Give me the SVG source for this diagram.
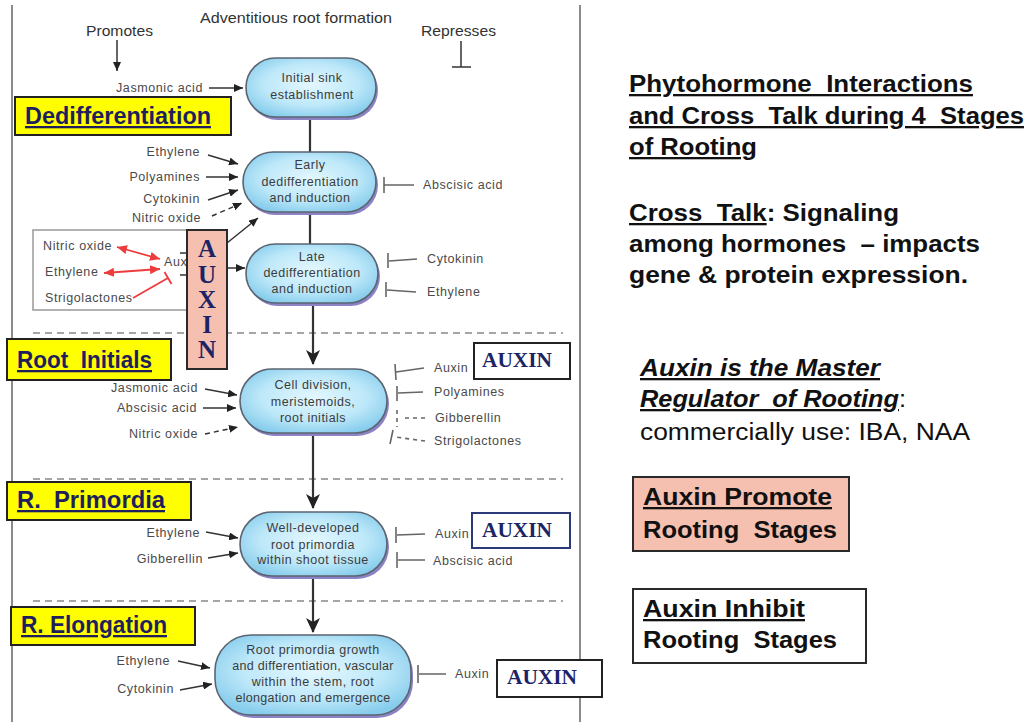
<svg xmlns="http://www.w3.org/2000/svg" width="1028" height="722" viewBox="0 0 1028 722">
<style>
.lbl{font-family:"Liberation Sans",Arial,sans-serif;font-size:12.5px;fill:#4a4a4a;letter-spacing:0.6px}
.lr{text-anchor:end}
.nt{font-family:"Liberation Sans",Arial,sans-serif;font-size:12.5px;fill:#3c3c3c;text-anchor:middle;letter-spacing:0.5px}
.hd{font-family:"Liberation Sans",Arial,sans-serif;font-size:14.5px;fill:#333}
.node{fill:url(#ng);stroke:#5b6470;stroke-width:1.6}
.shad{fill:#8c83c4}
.gl{stroke:#333;stroke-width:1.5;fill:none}
.gd{stroke:#333;stroke-width:1.5;fill:none;stroke-dasharray:5 4}
.tb{stroke:#666;stroke-width:1.6;fill:none}
.tbd{stroke:#666;stroke-width:1.6;fill:none;stroke-dasharray:4 4}
.main{stroke:#333;stroke-width:2.2;fill:none}
.sep{stroke:#888;stroke-width:1.6;stroke-dasharray:7 5;fill:none}
.yb{fill:#ffff00;stroke:#222;stroke-width:2}
.yt{font-family:"Liberation Sans",Arial,sans-serif;font-weight:bold;font-size:23px;fill:#1e1f5c;text-decoration:underline}
.ax{font-family:"Liberation Serif","Times New Roman",serif;font-weight:bold;font-size:21px;fill:#1b2466}
.rt{font-family:"Liberation Sans",Arial,sans-serif;font-weight:bold;font-size:23px;fill:#111}
.u{text-decoration:underline}
.red{stroke:#ee3b3b;stroke-width:1.8;fill:none}
</style>
<defs>
<radialGradient id="ng" cx="50%" cy="45%" r="60%">
<stop offset="0" stop-color="#e4f7fe"/>
<stop offset="0.6" stop-color="#bde8f9"/>
<stop offset="1" stop-color="#86ccec"/>
</radialGradient>
<marker id="a" markerWidth="9" markerHeight="8" refX="9" refY="4" orient="auto" markerUnits="userSpaceOnUse">
<path d="M0,0 L9,4 L0,8 z" fill="#222"/>
</marker>
<marker id="big" markerWidth="16" markerHeight="16" refX="14" refY="8" orient="auto" markerUnits="userSpaceOnUse">
<path d="M0,1 L15,8 L0,15 L4,8 z" fill="#222"/>
</marker>
<marker id="ra" markerWidth="10" markerHeight="9" refX="10" refY="4.5" orient="auto-start-reverse" markerUnits="userSpaceOnUse">
<path d="M0,0 L10,4.5 L0,9 z" fill="#ee3b3b"/>
</marker>
</defs>
<rect width="1028" height="722" fill="#fff"/>
<line x1="12" y1="5" x2="12" y2="722" stroke="#8a8a8a" stroke-width="2"/>
<line x1="580" y1="5" x2="580" y2="722" stroke="#8a8a8a" stroke-width="2"/>
<g id="header">
<text class="hd" x="200" y="23" textLength="192" lengthAdjust="spacingAndGlyphs">Adventitious root formation</text>
<text class="hd" x="86" y="36" textLength="67" lengthAdjust="spacingAndGlyphs">Promotes</text>
<text class="hd" x="421" y="36" textLength="75" lengthAdjust="spacingAndGlyphs">Represses</text>
<line x1="117" y1="40" x2="117" y2="71" class="gl" marker-end="url(#a)"/>
<line x1="461" y1="41" x2="461" y2="67" class="gl"/>
<line x1="452" y1="67" x2="471" y2="67" class="gl"/>
</g>
<g id="separators">
<line x1="33" y1="333" x2="563" y2="333" class="sep"/>
<line x1="33" y1="479" x2="563" y2="479" class="sep"/>
<line x1="33" y1="601" x2="563" y2="601" class="sep"/>
</g>
<g id="auxin-crosstalk">
<rect x="33" y="230" width="160" height="80" fill="#fff" stroke="#999" stroke-width="1.5"/>
<text class="lbl" x="43" y="250">Nitric oxide</text>
<text class="lbl" x="45" y="276">Ethylene</text>
<text class="lbl" x="45" y="302">Strigolactones</text>
<text class="lbl" x="164" y="266">Auxin</text>
<line x1="117" y1="247" x2="160" y2="259" class="red" marker-start="url(#ra)" marker-end="url(#ra)"/>
<line x1="104" y1="273" x2="160" y2="269" class="red" marker-start="url(#ra)" marker-end="url(#ra)"/>
<line x1="133" y1="298" x2="168" y2="278" class="red"/>
<line x1="164.5" y1="272" x2="171.5" y2="284" class="red"/>
<line x1="180" y1="253" x2="190" y2="253" class="gl"/>
<line x1="180" y1="275" x2="190" y2="275" class="gl"/>
</g>
<g id="connectors">
<line x1="310" y1="117" x2="310" y2="152" class="main"/>
<line x1="310" y1="212" x2="310" y2="245" class="main"/>
<line x1="313" y1="302" x2="313" y2="364" class="main" marker-end="url(#big)"/>
<line x1="313" y1="433" x2="313" y2="508" class="main" marker-end="url(#big)"/>
<line x1="313" y1="577" x2="313" y2="632" class="main" marker-end="url(#big)"/>
<line x1="209" y1="88" x2="243" y2="88" class="gl" marker-end="url(#a)"/>
<line x1="208" y1="155" x2="238" y2="164" class="gl" marker-end="url(#a)"/>
<line x1="206" y1="177" x2="238" y2="177" class="gl" marker-end="url(#a)"/>
<line x1="208" y1="200" x2="238" y2="190" class="gl" marker-end="url(#a)"/>
<line x1="212" y1="216" x2="242" y2="203" class="gd" marker-end="url(#a)"/>
<line x1="227" y1="243" x2="258" y2="218" class="gl" marker-end="url(#a)"/>
<line x1="227" y1="268" x2="245" y2="268" class="gl" marker-end="url(#a)"/>
<line x1="205" y1="389" x2="237" y2="395" class="gl" marker-end="url(#a)"/>
<line x1="203" y1="408" x2="236" y2="408" class="gl" marker-end="url(#a)"/>
<line x1="205" y1="434" x2="238" y2="427" class="gd" marker-end="url(#a)"/>
<line x1="206" y1="532" x2="238" y2="538" class="gl" marker-end="url(#a)"/>
<line x1="208" y1="558" x2="238" y2="553" class="gl" marker-end="url(#a)"/>
<line x1="178" y1="661" x2="210" y2="668" class="gl" marker-end="url(#a)"/>
<line x1="180" y1="690" x2="212" y2="684" class="gl" marker-end="url(#a)"/>
<path d="M414,185 L384,185 M384,177 L384,193" class="tb"/>
<path d="M417,259 L389,261 M388,253 L388,268" class="tb"/>
<path d="M416,292 L387,290 M386,282 L386,297" class="tb"/>
<path d="M424,368 L396,372 M395,364 L396,380" class="tb"/>
<path d="M423,392 L398,393 M397,386 L397,401" class="tb"/>
<path d="M425,418 L401,418" class="tbd"/>
<path d="M397,410 L397,427" class="tbd"/>
<path d="M425,441 L395,437" class="tbd"/>
<path d="M393,430 L390,444" class="tb"/>
<path d="M425,534 L397,535 M396,527 L396,543" class="tb"/>
<path d="M425,560 L398,560 M397,552 L397,568" class="tb"/>
<path d="M446,674 L419,674 M418,665 L418,683" class="tb"/>
</g>
<g id="node1">
<rect x="248" y="61" width="130" height="59" rx="29.5" class="shad"/>
<rect x="246" y="58" width="130" height="59" rx="29.5" class="node"/>
<text class="nt" x="312" y="82">Initial sink</text>
<text class="nt" x="312" y="99">establishment</text>
<text class="lbl lr" x="203" y="92">Jasmonic acid</text>
</g>
<g id="node2">
<rect x="245" y="155" width="133" height="60" rx="30" class="shad"/>
<rect x="243" y="152" width="133" height="60" rx="30" class="node"/>
<text class="nt" x="310" y="169">Early</text>
<text class="nt" x="310" y="186">dedifferentiation</text>
<text class="nt" x="310" y="202">and induction</text>
<text class="lbl lr" x="200" y="156">Ethylene</text>
<text class="lbl lr" x="200" y="181">Polyamines</text>
<text class="lbl lr" x="200" y="203">Cytokinin</text>
<text class="lbl lr" x="201" y="222">Nitric oxide</text>
<text class="lbl" x="423" y="189">Abscisic acid</text>
</g>
<g id="node3">
<rect x="248" y="247" width="132" height="59" rx="29.5" class="shad"/>
<rect x="246" y="244" width="132" height="59" rx="29.5" class="node"/>
<text class="nt" x="312" y="261">Late</text>
<text class="nt" x="312" y="277">dedifferentiation</text>
<text class="nt" x="312" y="293">and induction</text>
<text class="lbl" x="427" y="263">Cytokinin</text>
<text class="lbl" x="427" y="296">Ethylene</text>
</g>
<g id="node4">
<rect x="242" y="372" width="147" height="64" rx="32" class="shad"/>
<rect x="240" y="369" width="147" height="64" rx="32" class="node"/>
<text class="nt" x="313" y="389">Cell division,</text>
<text class="nt" x="313" y="406">meristemoids,</text>
<text class="nt" x="313" y="422">root initials</text>
<text class="lbl lr" x="198" y="392">Jasmonic acid</text>
<text class="lbl lr" x="197" y="412">Abscisic acid</text>
<text class="lbl lr" x="198" y="438">Nitric oxide</text>
<text class="lbl" x="434" y="372">Auxin</text>
<text class="lbl" x="434" y="396">Polyamines</text>
<text class="lbl" x="435" y="422">Gibberellin</text>
<text class="lbl" x="434" y="445">Strigolactones</text>
</g>
<g id="node5">
<rect x="242" y="515" width="147" height="64" rx="32" class="shad"/>
<rect x="240" y="512" width="147" height="64" rx="32" class="node"/>
<text class="nt" x="313" y="532">Well-developed</text>
<text class="nt" x="313" y="549">root primordia</text>
<text class="nt" x="313" y="564">within shoot tissue</text>
<text class="lbl lr" x="200" y="537">Ethylene</text>
<text class="lbl lr" x="203" y="563">Gibberellin</text>
<text class="lbl" x="435" y="538">Auxin</text>
<text class="lbl" x="433" y="565">Abscisic acid</text>
</g>
<g id="node6">
<rect x="217" y="638" width="196" height="80" rx="36" class="shad"/>
<rect x="215" y="635" width="196" height="80" rx="36" class="node"/>
<text class="nt" x="313" y="654">Root primordia growth</text>
<text class="nt" x="313" y="670" style="letter-spacing:0.3px">and differentiation, vascular</text>
<text class="nt" x="313" y="686">within the stem, root</text>
<text class="nt" x="313" y="702" style="letter-spacing:0.3px">elongation and emergence</text>
<text class="lbl lr" x="170" y="665">Ethylene</text>
<text class="lbl lr" x="174" y="693">Cytokinin</text>
<text class="lbl" x="455" y="678">Auxin</text>
</g>
<g id="auxin-vertical">
<rect x="187" y="230" width="40" height="139" fill="#f6c0b0" stroke="#2a2a2a" stroke-width="2"/>
<text class="ax" x="207" y="257" text-anchor="middle" style="font-size:25px">A</text>
<text class="ax" x="207" y="283" text-anchor="middle" style="font-size:25px">U</text>
<text class="ax" x="207" y="308" text-anchor="middle" style="font-size:25px">X</text>
<text class="ax" x="207" y="333" text-anchor="middle" style="font-size:25px">I</text>
<text class="ax" x="207" y="358" text-anchor="middle" style="font-size:25px">N</text>
</g>
<g id="auxin-box-1">
<rect x="474" y="343" width="96" height="36" fill="#fff" stroke="#222" stroke-width="2"/>
<text class="ax" x="482" y="367" textLength="70" lengthAdjust="spacingAndGlyphs">AUXIN</text>
</g>
<g id="auxin-box-2">
<rect x="472" y="513" width="98" height="35" fill="#fff" stroke="#2c3a78" stroke-width="2"/>
<text class="ax" x="482" y="537" textLength="70" lengthAdjust="spacingAndGlyphs">AUXIN</text>
</g>
<g id="auxin-box-3">
<rect x="497" y="660" width="105" height="37" fill="#fff" stroke="#222" stroke-width="2"/>
<text class="ax" x="507" y="684" textLength="70" lengthAdjust="spacingAndGlyphs">AUXIN</text>
</g>
<g id="stage-dedifferentiation">
<rect x="15" y="97" width="216" height="38" class="yb"/>
<text class="yt" x="25" y="124" textLength="186" lengthAdjust="spacingAndGlyphs">Dedifferentiation</text>
</g>
<g id="stage-root-initials">
<rect x="7" y="339" width="164" height="41" class="yb"/>
<text class="yt" x="17" y="368" textLength="135" lengthAdjust="spacingAndGlyphs" xml:space="preserve">Root  Initials</text>
</g>
<g id="stage-primordia">
<rect x="7" y="482" width="184" height="38" class="yb"/>
<text class="yt" x="17" y="508" textLength="148" lengthAdjust="spacingAndGlyphs" xml:space="preserve">R.  Primordia</text>
</g>
<g id="stage-elongation">
<rect x="11" y="607" width="184" height="38" class="yb"/>
<text class="yt" x="21" y="633" textLength="146" lengthAdjust="spacingAndGlyphs">R. Elongation</text>
</g>
<g id="right-panel">
<text class="rt u" x="629" y="92" textLength="344" lengthAdjust="spacingAndGlyphs" xml:space="preserve">Phytohormone  Interactions</text>
<text class="rt u" x="629" y="124" textLength="395" lengthAdjust="spacingAndGlyphs" xml:space="preserve">and Cross  Talk during 4  Stages</text>
<text class="rt u" x="629" y="155" textLength="128" lengthAdjust="spacingAndGlyphs">of Rooting</text>
<text class="rt" x="629" y="221" textLength="270" lengthAdjust="spacingAndGlyphs" xml:space="preserve"><tspan class="u">Cross  Talk</tspan>: Signaling</text>
<text class="rt" x="629" y="252" textLength="351" lengthAdjust="spacingAndGlyphs" xml:space="preserve">among hormones  – impacts</text>
<text class="rt" x="629" y="283" textLength="339" lengthAdjust="spacingAndGlyphs">gene &amp; protein expression.</text>
<text class="rt u" x="640" y="376" style="font-style:italic" textLength="240" lengthAdjust="spacingAndGlyphs">Auxin is the Master</text>
<text class="rt" x="640" y="407" style="font-style:italic" textLength="266" lengthAdjust="spacingAndGlyphs" xml:space="preserve"><tspan class="u">Regulator  of Rooting</tspan><tspan style="font-weight:normal;font-style:normal">:</tspan></text>
<text x="640" y="440" style="font-family:'Liberation Sans',Arial,sans-serif;font-size:23px;fill:#111" textLength="330" lengthAdjust="spacingAndGlyphs">commercially use: IBA, NAA</text>
</g>
<g id="legend-promote">
<rect x="633" y="477" width="216" height="74" fill="#f6c0b0" stroke="#2a2a2a" stroke-width="2"/>
<text class="rt u" x="643" y="505" textLength="189" lengthAdjust="spacingAndGlyphs">Auxin Promote</text>
<text class="rt" x="643" y="538" textLength="194" lengthAdjust="spacingAndGlyphs" xml:space="preserve">Rooting  Stages</text>
</g>
<g id="legend-inhibit">
<rect x="633" y="589" width="233" height="74" fill="#fff" stroke="#2a2a2a" stroke-width="2"/>
<text class="rt u" x="643" y="617" textLength="162" lengthAdjust="spacingAndGlyphs">Auxin Inhibit</text>
<text class="rt" x="643" y="648" textLength="194" lengthAdjust="spacingAndGlyphs" xml:space="preserve">Rooting  Stages</text>
</g>
</svg>
